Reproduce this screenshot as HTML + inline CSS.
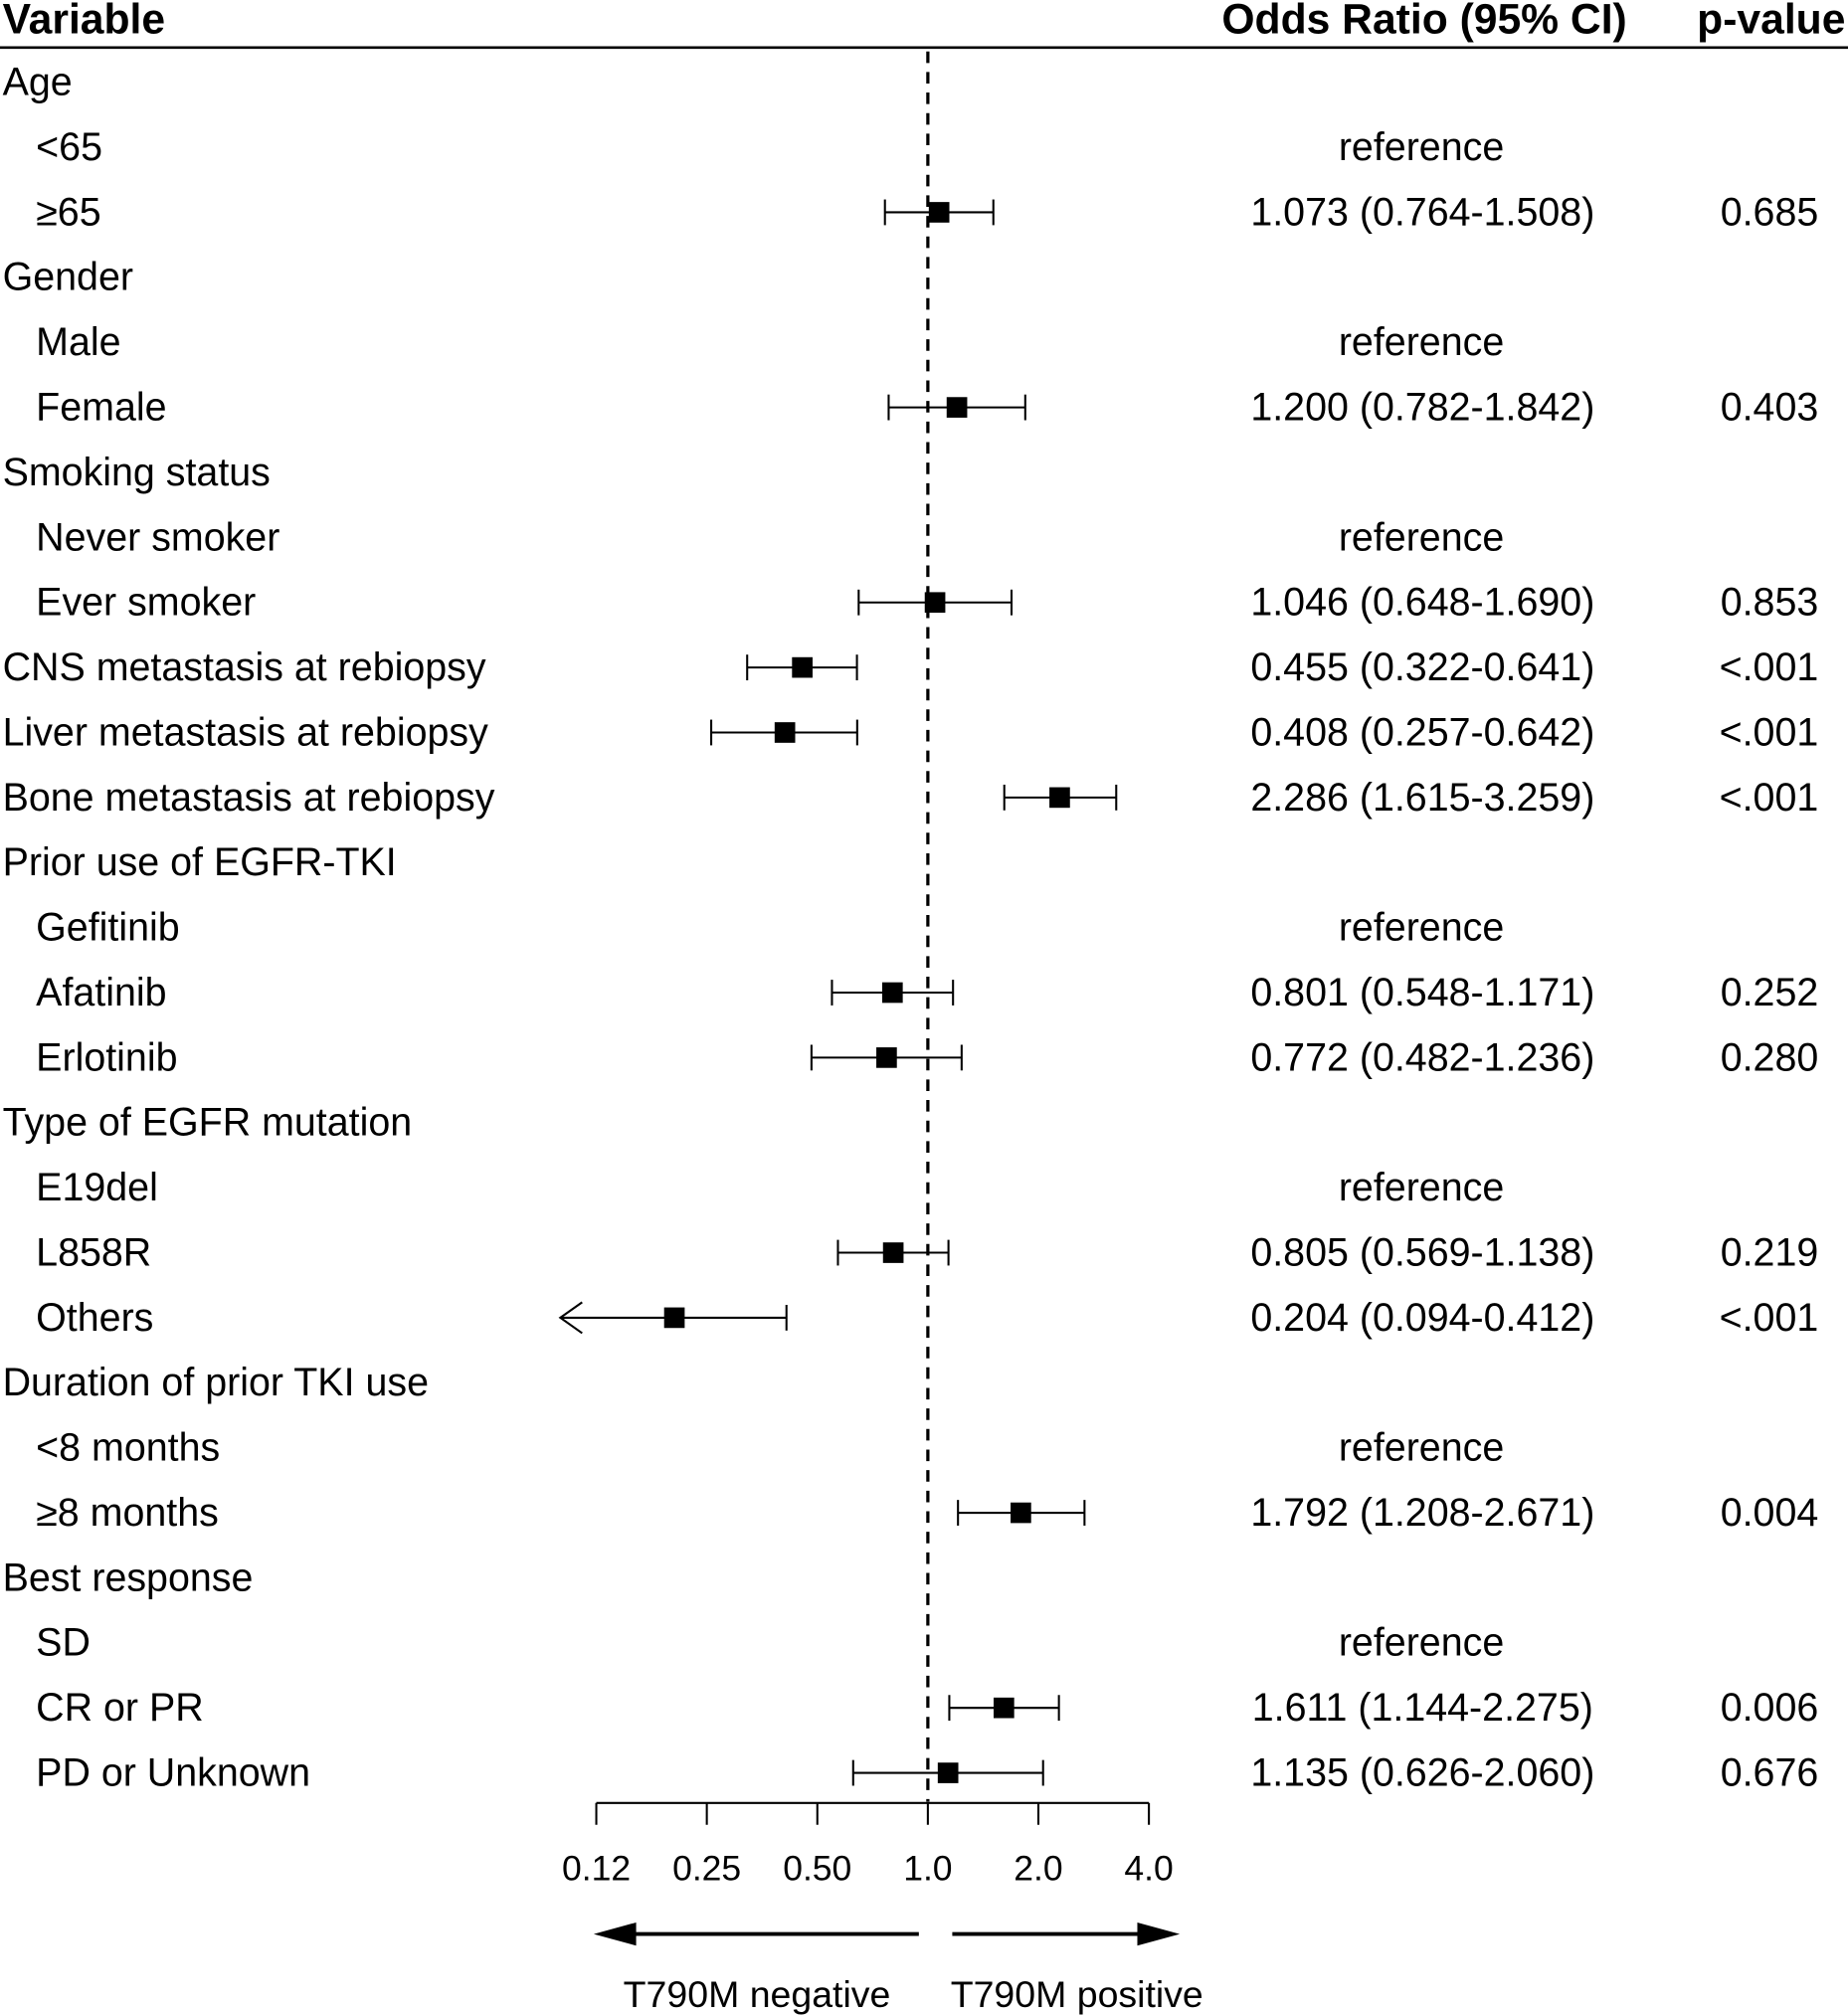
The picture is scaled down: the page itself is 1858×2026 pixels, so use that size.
<!DOCTYPE html>
<html><head><meta charset="utf-8"><style>
html,body{margin:0;padding:0;background:#fff;}
svg{display:block;font-family:"Liberation Sans",Arial,sans-serif;}
</style></head><body>
<svg id="chart" width="1858" height="2026" viewBox="0 0 1438 1568" xmlns="http://www.w3.org/2000/svg">
<g id="hdr" font-weight="bold" font-size="33">
<text x="2" y="26">Variable</text>
<text x="1266" y="26" text-anchor="end">Odds Ratio (95% CI)</text>
<text x="1436" y="26" text-anchor="end">p-value</text>
</g>
<line x1="0" y1="37" x2="1438" y2="37" stroke="#000" stroke-width="2"/>
<g id="rows"></g>
<g id="axis"></g>
</svg>
<script>
const labels=["Age","<65","≥65","Gender","Male","Female","Smoking status","Never smoker","Ever smoker","CNS metastasis at rebiopsy","Liver metastasis at rebiopsy","Bone metastasis at rebiopsy","Prior use of EGFR-TKI","Gefitinib","Afatinib","Erlotinib","Type of EGFR mutation","E19del","L858R","Others","Duration of prior TKI use","<8 months","≥8 months","Best response","SD","CR or PR","PD or Unknown"];
const indented=[0,1,1,0,1,1,0,1,1,0,0,0,0,1,1,1,0,1,1,1,0,1,1,0,1,1,1];
const orVals=[null,null,1.073,null,null,1.200,null,null,1.046,0.455,0.408,2.286,null,null,0.801,0.772,null,null,0.805,0.204,null,null,1.792,null,null,1.611,1.135];
const loVals=[null,null,0.764,null,null,0.782,null,null,0.648,0.322,0.257,1.615,null,null,0.548,0.482,null,null,0.569,0.094,null,null,1.208,null,null,1.144,0.626];
const hiVals=[null,null,1.508,null,null,1.842,null,null,1.690,0.641,0.642,3.259,null,null,1.171,1.236,null,null,1.138,0.412,null,null,2.671,null,null,2.275,2.060];
const refRows=[1,4,7,13,17,21,24];
const pVals=[null,null,"0.685",null,null,"0.403",null,null,"0.853","<.001","<.001","<.001",null,null,"0.252","0.280",null,null,"0.219","<.001",null,null,"0.004",null,null,"0.006","0.676"];
const tickVals=[0.125,0.25,0.5,1,2,4];
const tickLabels=["0.12","0.25","0.50","1.0","2.0","4.0"];
const NS="http://www.w3.org/2000/svg";
const xMin=0.125,xMax=4;
const FS=30.5;
function x(v){return 722+86*Math.log2(v);}
function y(i){return 64+i*50.6;}
function mk(tag,attrs,parent){const e=document.createElementNS(NS,tag);for(const k in attrs)e.setAttribute(k,attrs[k]);parent.appendChild(e);return e;}
const rows=document.getElementById('rows');
const ax=document.getElementById('axis');
const dl=mk('line',{x1:x(1),x2:x(1),y1:40,y2:1402,stroke:'#000','stroke-width':2.5,'stroke-dasharray':'9,7'},rows);


labels.forEach((lab,i)=>{
  const t=mk('text',{x:indented[i]?28:2,y:y(i)+10,'font-size':FS},rows);
  t.textContent=lab;
  
  
  if(refRows.includes(i)){
    const r=mk('text',{x:1106,y:y(i)+10,'font-size':FS,'text-anchor':'middle'},rows);
    r.textContent='reference';
    
    
  }
  if(orVals[i]!=null){
    const yy=y(i);
    const lo=loVals[i],hi=hiVals[i];
    const x1=lo<xMin?x(xMin)-28:x(lo), x2=x(hi);
    const g=mk('g',{},rows);
    
    
    mk('line',{x1:x1,x2:x2,y1:yy,y2:yy,stroke:'#000','stroke-width':1.6},g);
    if(lo<xMin){
      mk('polyline',{points:`${x1+17},${yy-12} ${x1},${yy} ${x1+17},${yy+12}`,fill:'none',stroke:'#000','stroke-width':1.6},g);
    } else {
      mk('line',{x1:x1,x2:x1,y1:yy-10,y2:yy+10,stroke:'#000','stroke-width':1.6},g);
    }
    mk('line',{x1:x2,x2:x2,y1:yy-10,y2:yy+10,stroke:'#000','stroke-width':1.6},g);
    mk('rect',{x:x(orVals[i])-8,y:yy-8,width:16,height:16,fill:'#000'},g);
    const o=mk('text',{x:1107,y:yy+10,'font-size':FS,'text-anchor':'middle'},rows);
    o.textContent=orVals[i].toFixed(3)+' ('+lo.toFixed(3)+'-'+hi.toFixed(3)+')';
    
    
    const p=mk('text',{x:1415,y:yy+10,'font-size':FS,'text-anchor':'end'},rows);
    p.textContent=pVals[i];
    
    
  }
});
const al=mk('line',{x1:x(xMin),x2:x(xMax),y1:1403,y2:1403,stroke:'#000','stroke-width':1.6},ax);


tickVals.forEach((v,i)=>{
  const tk=mk('line',{x1:x(v),x2:x(v),y1:1403,y2:1420,stroke:'#000','stroke-width':1.6},ax);
  
  
  const tl=mk('text',{x:x(v),y:1463,'font-size':27.5,'text-anchor':'middle'},ax);
  tl.textContent=tickLabels[i];
  
  
});
const la=mk('g',{},ax);


mk('line',{x1:490,x2:715,y1:1505,y2:1505,stroke:'#000','stroke-width':3},la);
mk('polygon',{points:'462,1505 495,1496 495,1514',fill:'#000'},la);
const ra=mk('g',{},ax);


mk('line',{x1:741,x2:890,y1:1505,y2:1505,stroke:'#000','stroke-width':3},ra);
mk('polygon',{points:'918,1505 885,1496 885,1514',fill:'#000'},ra);
const nl=mk('text',{x:589,y:1562,'font-size':29,'text-anchor':'middle'},ax);
nl.textContent='T790M negative';


const pl=mk('text',{x:838,y:1562,'font-size':29,'text-anchor':'middle'},ax);
pl.textContent='T790M positive';


</script>
</body></html>
